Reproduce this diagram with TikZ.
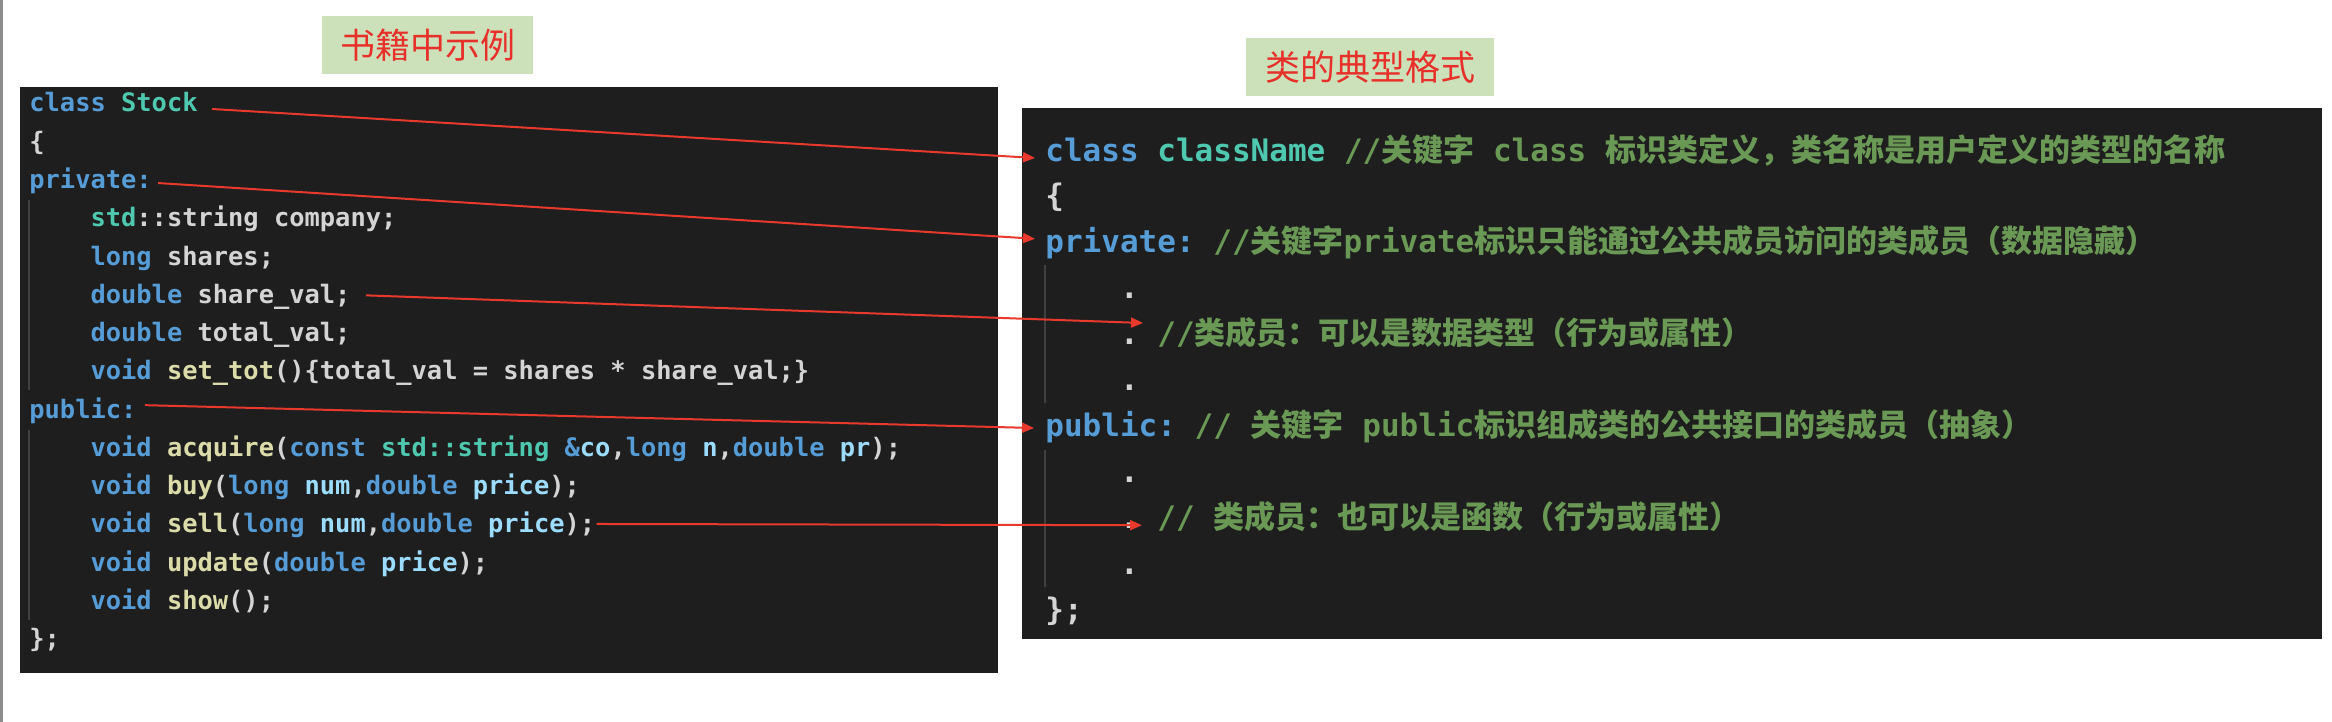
\documentclass[tikz,border=0pt]{standalone}
\usepackage{fontspec}
\setmonofont{DejaVu Sans Mono}
\newfontfamily\cjk{Noto Sans CJK SC}
\usepackage{tikz}
\usetikzlibrary{positioning,calc,arrows.meta}

\definecolor{codebg}{HTML}{1E1E1E}
\definecolor{codefg}{HTML}{D4D4D4}
\definecolor{kwblue}{HTML}{569CD6}
\definecolor{tyteal}{HTML}{4EC9B0}
\definecolor{fnyellow}{HTML}{DCDCAA}
\definecolor{varblue}{HTML}{9CDCFE}
\definecolor{comgreen}{HTML}{6A9955}
\definecolor{guidegray}{HTML}{404040}
\definecolor{edgegray}{HTML}{8C8C8C}
\definecolor{tagfill}{HTML}{CCE0BA}
\definecolor{tagred}{HTML}{E8302A}
\definecolor{arrred}{HTML}{E8392C}

\newcommand{\ckw}[1]{\textcolor{kwblue}{#1}}
\newcommand{\cty}[1]{\textcolor{tyteal}{#1}}
\newcommand{\cfn}[1]{\textcolor{fnyellow}{#1}}
\newcommand{\cvar}[1]{\textcolor{varblue}{#1}}
\newcommand{\ccom}[1]{\textcolor{comgreen}{#1}}
\newcommand{\ind}{\hphantom{0000}}

\begin{document}
\begin{tikzpicture}[x=0.5pt,y=-0.5pt]

 \tikzstyle{leftcode}=[inner sep=0pt,anchor=base west,text=codefg,
font=\ttfamily\bfseries\fontsize{12.7pt}{15pt}\selectfont\frenchspacing]
 \tikzstyle{rightcode}=[inner sep=0pt,anchor=base west,text=codefg,
font=\ttfamily\bfseries\fontsize{15.5pt}{18pt}\selectfont\frenchspacing]
 \tikzstyle{tagbox}=[fill=tagfill,text=tagred,font=\cjk\fontsize{17.5pt}{20pt}\selectfont,
minimum height=29pt,inner sep=0pt]
 \tikzstyle{redarrow}=[draw=arrred,line width=1pt,-{Triangle[length=6pt,width=5pt]}]
 \tikzstyle{indentline}=[draw=guidegray,line width=0.8pt]

\fill[white] (0,0) rectangle (2332,722);
\useasboundingbox (0,0) rectangle (2332,722);
\draw[edgegray,line width=1.2pt] (1.5,0) -- (1.5,722);

% Code panels
\fill[codebg] (20,87) rectangle (998,673);
\fill[codebg] (1022,108) rectangle (2322,639);

\draw[indentline] (29,200) -- (29,390);
\draw[indentline] (29,430) -- (29,620);
\draw[indentline] (1045,265) -- (1045,403);
\draw[indentline] (1045,450) -- (1045,587);

% Titles
\node[tagbox,minimum width=105.5pt] (t1) at (427.5,45) {书籍中示例};
\node[tagbox,minimum width=124pt] (t2) at (1370,67) {类的典型格式};

% Book example
\node[leftcode] (l1) at (29,112) {\ckw{class} \cty{Stock}};
\node[below=19.135pt of l1.base west,leftcode] (l2) {\{};
\node[below=19.135pt of l2.base west,leftcode] (l3) {\ckw{private:}};
\node[below=19.135pt of l3.base west,leftcode] (l4) {\ind\cty{std}::string company;};
\node[below=19.135pt of l4.base west,leftcode] (l5) {\ind\ckw{long} shares;};
\node[below=19.135pt of l5.base west,leftcode] (l6) {\ind\ckw{double} share\_val;};
\node[below=19.135pt of l6.base west,leftcode] (l7) {\ind\ckw{double} total\_val;};
\node[below=19.135pt of l7.base west,leftcode] (l8) {\ind\ckw{void} \cfn{set\_tot}()\{total\_val = shares * share\_val;\}};
\node[below=19.135pt of l8.base west,leftcode] (l9) {\ckw{public:}};
\node[below=19.135pt of l9.base west,leftcode] (l10) {\ind\ckw{void} \cfn{acquire}(\ckw{const} \cty{std::string} \ckw{\&}\cvar{co},\ckw{long} \cvar{n},\ckw{double} \cvar{pr});};
\node[below=19.135pt of l10.base west,leftcode] (l11) {\ind\ckw{void} \cfn{buy}(\ckw{long} \cvar{num},\ckw{double} \cvar{price});};
\node[below=19.135pt of l11.base west,leftcode] (l12) {\ind\ckw{void} \cfn{sell}(\ckw{long} \cvar{num},\ckw{double} \cvar{price});};
\node[below=19.135pt of l12.base west,leftcode] (l13) {\ind\ckw{void} \cfn{update}(\ckw{double} \cvar{price});};
\node[below=19.135pt of l13.base west,leftcode] (l14) {\ind\ckw{void} \cfn{show}();};
\node[below=19.135pt of l14.base west,leftcode] (l15) {\};};

% Typical format
\node[rightcode] (r1) at (1045,161) {\ckw{class} \cty{className} \ccom{//{\cjk 关键字} class {\cjk 标识类定义，类名称是用户定义的类型的名称}}};
\node[below=22.95pt of r1.base west,rightcode] (r2) {\{};
\node[below=22.95pt of r2.base west,rightcode] (r3) {\ckw{private:} \ccom{//{\cjk 关键字}private{\cjk 标识只能通过公共成员访问的类成员（数据隐藏）}}};
\node[below=22.95pt of r3.base west,rightcode] (r4) {\ind.};
\node[below=22.95pt of r4.base west,rightcode] (r5) {\ind. \ccom{//{\cjk 类成员：可以是数据类型（行为或属性）}}};
\node[below=22.95pt of r5.base west,rightcode] (r6) {\ind.};
\node[below=22.95pt of r6.base west,rightcode] (r7) {\ckw{public:} \ccom{// {\cjk 关键字} public{\cjk 标识组成类的公共接口的类成员（抽象）}}};
\node[below=22.95pt of r7.base west,rightcode] (r8) {\ind.};
\node[below=22.95pt of r8.base west,rightcode] (r9) {\ind. \ccom{// {\cjk 类成员：也可以是函数（行为或属性）}}};
\node[below=22.95pt of r9.base west,rightcode] (r10) {\ind.};
\node[below=22.95pt of r10.base west,rightcode] (r11) {\};};

% Pointers
\draw[redarrow] ($(l1.base east)+(14,-3)$) -- ($(r1.base west)+(-10,-3)$);
\draw[redarrow] ($(l3.base east)+(6,-5.5)$) -- ($(r3.base west)+(-10,-14)$);
\draw[redarrow] ($(l6.base east)+(15,-8)$) -- ($(r5.base west)+(98,-21.6)$);
\draw[redarrow] ($(l9.base east)+(8,-13)$) -- ($(r7.base west)+(-11,-8.4)$);
\draw[redarrow] ($(l12.base east)+(1,-9)$) -- ($(r9.base west)+(97,-3)$);

\end{tikzpicture}
\end{document}
